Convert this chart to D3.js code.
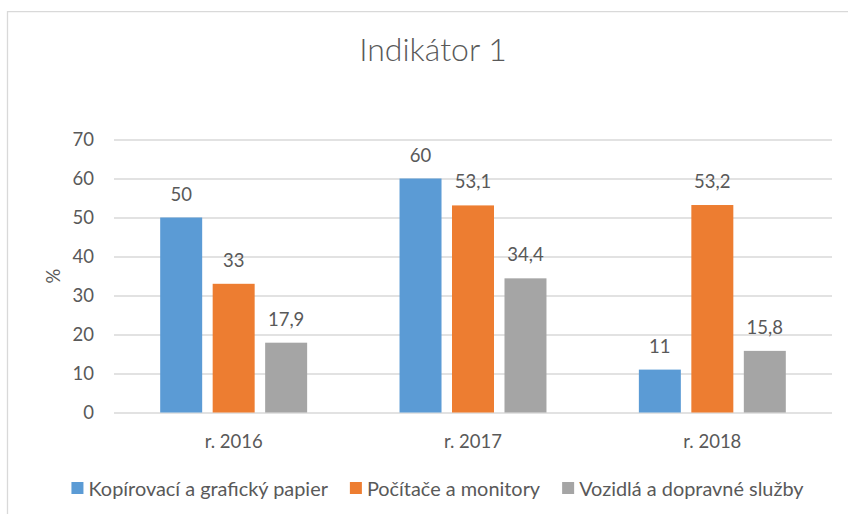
<!DOCTYPE html>
<html>
<head>
<meta charset="utf-8">
<script src="https://cdn.jsdelivr.net/npm/d3@7"></script>
<style>
  html, body { margin: 0; padding: 0; background: #fff; }
  svg { display: block; }
  text { font-family: Lato, "Open Sans", sans-serif; fill: #595959; }
</style>
</head>
<body>
<svg id="chart" width="848" height="514"></svg>
<script>
const title = "Indikátor 1";
const categories = ["r. 2016", "r. 2017", "r. 2018"];
const seriesNames = ["Kopírovací a grafický papier", "Počítače a monitory", "Vozidlá a dopravné služby"];
const seriesColors = ["#5B9BD5", "#ED7D31", "#A5A5A5"];
const kopirovaci = [50, 60, 11];
const pocitace = [33, 53.1, 53.2];
const vozidla = [17.9, 34.4, 15.8];
const yTicks = [0, 10, 20, 30, 40, 50, 60, 70];
const yLabel = "%";

const seriesValues = [kopirovaci, pocitace, vozidla];

const svg = d3.select("#chart");
const W = 848, H = 514;
const plot = { left: 114, right: 832, top: 139.5, bottom: 412.5 };

// outer border (left & top visible)
svg.append("path")
  .attr("d", `M7.5,${H} L7.5,11.7 L${W},11.7`)
  .attr("fill", "none").attr("stroke", "#d9d9d9").attr("stroke-width", 1.3);

const y = d3.scaleLinear().domain([0, 70]).range([plot.bottom, plot.top]);
const x0 = d3.scaleBand().domain(categories).range([plot.left, plot.right])
  .paddingInner(0.386).paddingOuter(0.193);
const x1 = d3.scaleBand().domain(d3.range(seriesNames.length)).range([0, x0.bandwidth()])
  .paddingInner(0.2).paddingOuter(0);

// gridlines
const yAxis = d3.axisLeft(y).tickValues(yTicks).tickSize(-(plot.right - plot.left)).tickPadding(20).tickFormat(d3.format("d"));
const gy = svg.append("g").attr("transform", `translate(${plot.left},0)`).call(yAxis);
gy.select(".domain").remove();
gy.selectAll(".tick line").attr("stroke", "#d9d9d9").attr("stroke-width", 1.3);
gy.selectAll(".tick text").attr("font-size", 18.5).attr("fill", "#595959")
  .style("font-family", "Lato, sans-serif");

// bars
const fmt = v => String(v).replace(".", ",");
categories.forEach((c, ci) => {
  const g = svg.append("g").attr("transform", `translate(${x0(c)},0)`);
  seriesValues.forEach((vals, si) => {
    const v = vals[ci];
    g.append("rect")
      .attr("x", x1(si)).attr("width", x1.bandwidth())
      .attr("y", y(v)).attr("height", y(0) - y(v))
      .attr("fill", seriesColors[si]);
    g.append("text")
      .attr("x", x1(si) + x1.bandwidth() / 2).attr("y", y(v) - 17)
      .attr("text-anchor", "middle").attr("font-size", 18.5)
      .attr("fill", "#404040")
      .text(fmt(v));
  });
});

// x axis labels
const xAxis = d3.axisBottom(x0).tickSize(0).tickPadding(0);
const gx = svg.append("g").attr("transform", `translate(0,${plot.bottom})`).call(xAxis);
gx.select(".domain").remove();
gx.selectAll(".tick text").attr("font-size", 18.5).attr("fill", "#595959")
  .attr("dy", null).attr("y", 35).style("font-family", "Lato, sans-serif");

// y label
svg.append("text")
  .attr("transform", `translate(60,${(plot.top + plot.bottom) / 2}) rotate(-90)`)
  .attr("text-anchor", "middle").attr("font-size", 18.5)
  .text(yLabel);

// title
svg.append("text")
  .attr("x", 433).attr("y", 61.3)
  .attr("text-anchor", "middle").attr("font-size", 32).attr("font-weight", 300)
  .text(title);

// legend
const lg = svg.append("g");
let cx = 0;
seriesNames.forEach((n, i) => {
  const it = lg.append("g").attr("transform", `translate(${cx},0)`);
  it.append("rect").attr("x", 0).attr("y", 482).attr("width", 12).attr("height", 12).attr("fill", seriesColors[i]);
  const t = it.append("text").attr("x", 17).attr("y", 496).attr("font-size", 19.9).text(n);
  const w = t.node().getComputedTextLength();
  cx += 17 + w + 22;
});
const totalW = cx - 22;
lg.attr("transform", `translate(${437.5 - totalW / 2},0)`);
</script>
</body>
</html>
